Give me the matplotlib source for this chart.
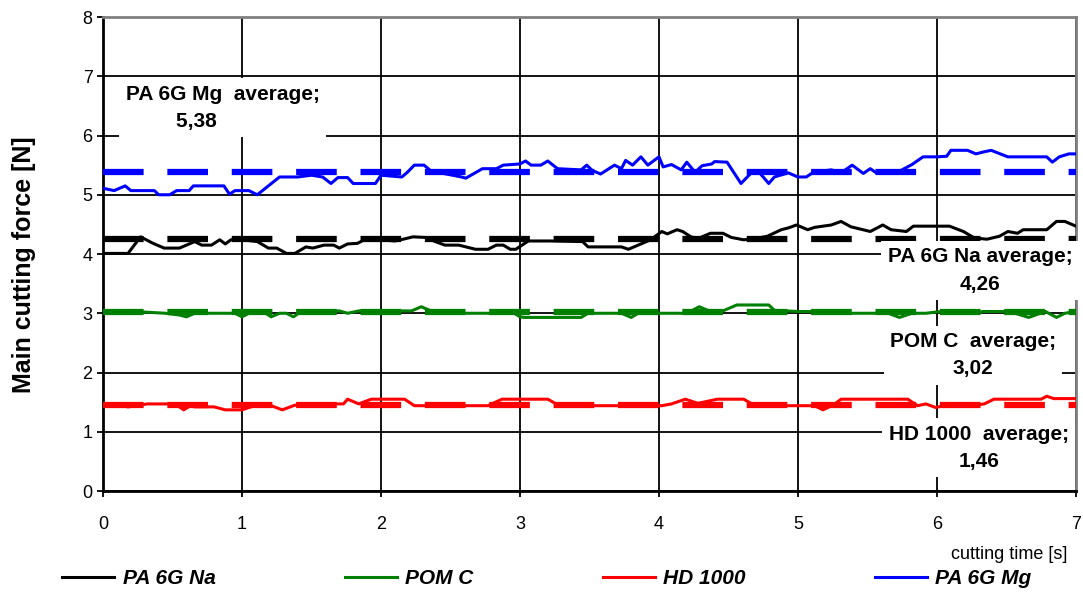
import matplotlib
matplotlib.use("Agg")
import matplotlib.pyplot as plt

plt.rcParams['font.family'] = ['Liberation Sans', 'DejaVu Sans']

# PA 6G Na (black)
na_t = [0, 0.18, 0.27, 0.36, 0.44, 0.55, 0.66, 0.71, 0.78, 0.84, 0.88, 0.92, 1.0, 1.11, 1.19, 1.25,
        1.32, 1.38, 1.46, 1.51, 1.59, 1.66, 1.70, 1.76, 1.83, 1.89, 2.0, 2.1, 2.16, 2.23, 2.32, 2.39,
        2.46, 2.56, 2.68, 2.77, 2.83, 2.88, 2.93, 2.97, 3.06, 3.22, 3.45, 3.49, 3.73, 3.78, 3.85, 3.94,
        4.02, 4.06, 4.13, 4.17, 4.23, 4.28, 4.37, 4.46, 4.52, 4.61, 4.69, 4.78, 4.88, 4.93, 4.99, 5.07,
        5.12, 5.24, 5.31, 5.38, 5.52, 5.61, 5.67, 5.78, 5.83, 5.93, 6.09, 6.19, 6.27, 6.36, 6.45, 6.51,
        6.58, 6.62, 6.79, 6.86, 6.92, 7.0]
na_v = [4.01, 4.01, 4.29, 4.18, 4.10, 4.10, 4.21, 4.15, 4.15, 4.24, 4.17, 4.24, 4.24, 4.21, 4.10, 4.10,
        4.01, 4.01, 4.12, 4.10, 4.15, 4.15, 4.10, 4.17, 4.18, 4.25, 4.24, 4.22, 4.25, 4.29, 4.28, 4.21,
        4.15, 4.15, 4.08, 4.08, 4.15, 4.15, 4.08, 4.08, 4.22, 4.22, 4.21, 4.12, 4.12, 4.08, 4.15, 4.24,
        4.38, 4.34, 4.41, 4.38, 4.29, 4.26, 4.35, 4.35, 4.28, 4.24, 4.26, 4.30, 4.41, 4.44, 4.49, 4.41,
        4.45, 4.49, 4.55, 4.46, 4.38, 4.49, 4.41, 4.38, 4.47, 4.47, 4.47, 4.38, 4.27, 4.25, 4.30, 4.38,
        4.35, 4.41, 4.41, 4.55, 4.55, 4.47]

# POM C (green)
pom_t = [0, 0.3, 0.45, 0.55, 0.6, 0.66, 0.78, 0.95, 1.0, 1.05, 1.17, 1.21, 1.27, 1.32, 1.37, 1.42,
         1.62, 1.7, 1.76, 1.84, 2.22, 2.29, 2.36, 2.53, 2.79, 2.96, 3.0, 3.03, 3.44, 3.49, 3.73, 3.80,
         3.85, 4.0, 4.2, 4.29, 4.35, 4.45, 4.56, 4.79, 4.83, 5.0, 5.17, 5.29, 5.58, 5.65, 5.73, 5.82,
         5.92, 6.03, 6.28, 6.33, 6.52, 6.66, 6.78, 6.86, 6.92, 7.0]
pom_v = [3.02, 3.02, 3.0, 2.97, 2.94, 3.0, 3.0, 3.0, 2.94, 3.0, 3.0, 2.94, 3.0, 3.0, 2.94, 3.02,
         3.03, 3.04, 3.0, 3.04, 3.04, 3.11, 3.04, 3.0, 3.0, 3.0, 2.94, 2.93, 2.93, 3.0, 3.0, 2.93,
         3.0, 3.0, 3.0, 3.11, 3.05, 3.03, 3.14, 3.14, 3.05, 3.03, 3.03, 3.0, 3.0, 3.0, 2.93, 3.0,
         3.0, 3.03, 3.0, 3.03, 3.03, 2.93, 3.03, 2.93, 3.0, 3.03]

# HD 1000 (red)
hd_t = [0, 0.09, 0.18, 0.32, 0.52, 0.58, 0.63, 0.66, 0.8, 0.88, 1.0, 1.09, 1.21, 1.29, 1.37, 1.42,
        1.73, 1.76, 1.84, 1.93, 2.17, 2.24, 2.77, 2.87, 3.2, 3.26, 3.44, 3.51, 4.02, 4.09, 4.19, 4.28,
        4.42, 4.61, 4.69, 5.12, 5.18, 5.26, 5.31, 5.79, 5.86, 5.92, 5.99, 6.05, 6.25, 6.34, 6.41, 6.75,
        6.79, 6.84, 7.0]
hd_v = [1.46, 1.46, 1.42, 1.47, 1.47, 1.37, 1.44, 1.42, 1.42, 1.37, 1.37, 1.44, 1.44, 1.37, 1.44, 1.47,
        1.47, 1.55, 1.47, 1.55, 1.55, 1.44, 1.44, 1.55, 1.55, 1.47, 1.47, 1.44, 1.44, 1.47, 1.55, 1.48,
        1.55, 1.55, 1.44, 1.44, 1.37, 1.46, 1.55, 1.55, 1.44, 1.47, 1.41, 1.44, 1.44, 1.47, 1.55, 1.55,
        1.60, 1.56, 1.56]

# PA 6G Mg (blue)
mg_t = [0, 0.08, 0.16, 0.2, 0.37, 0.4, 0.48, 0.53, 0.62, 0.65, 0.87, 0.91, 0.95, 1.05, 1.11, 1.27,
        1.4, 1.5, 1.58, 1.64, 1.69, 1.76, 1.80, 1.96, 2.0, 2.15, 2.19, 2.24, 2.31, 2.36, 2.58, 2.61,
        2.73, 2.83, 2.88, 3.0, 3.04, 3.08, 3.15, 3.2, 3.27, 3.44, 3.48, 3.52, 3.58, 3.68, 3.73, 3.76,
        3.81, 3.87, 3.92, 4.0, 4.03, 4.09, 4.16, 4.2, 4.26, 4.31, 4.38, 4.4, 4.49, 4.59, 4.66, 4.72,
        4.79, 4.83, 4.93, 5.0, 5.06, 5.11, 5.24, 5.31, 5.39, 5.47, 5.52, 5.57, 5.74, 5.82, 5.90, 6.0,
        6.07, 6.10, 6.22, 6.28, 6.33, 6.39, 6.51, 6.79, 6.83, 6.88, 6.95, 7.0]
mg_v = [5.11, 5.07, 5.15, 5.07, 5.07, 5.0, 5.0, 5.07, 5.07, 5.15, 5.15, 5.01, 5.07, 5.07, 5.0, 5.30,
        5.30, 5.33, 5.30, 5.19, 5.29, 5.29, 5.19, 5.19, 5.33, 5.30, 5.38, 5.50, 5.50, 5.40, 5.30, 5.28,
        5.44, 5.44, 5.50, 5.52, 5.57, 5.50, 5.50, 5.57, 5.44, 5.42, 5.50, 5.41, 5.35, 5.50, 5.44, 5.58,
        5.50, 5.64, 5.50, 5.64, 5.47, 5.51, 5.42, 5.55, 5.38, 5.49, 5.52, 5.56, 5.55, 5.19, 5.36, 5.38,
        5.19, 5.30, 5.37, 5.30, 5.30, 5.38, 5.42, 5.37, 5.50, 5.36, 5.44, 5.36, 5.41, 5.51, 5.64, 5.64,
        5.65, 5.75, 5.75, 5.69, 5.72, 5.75, 5.64, 5.64, 5.55, 5.64, 5.69, 5.69]

avg_na, avg_pom, avg_hd, avg_mg = 4.26, 3.02, 1.46, 5.38

fig = plt.figure(figsize=(10.83, 6.03), dpi=100)
ax = fig.add_axes([0.0951, 0.1857, 0.8984, 0.7861])

ax.plot(na_t, na_v, color='black', lw=2.2, label='PA 6G Na', zorder=3)
ax.plot(pom_t, pom_v, color='#008000', lw=2.2, label='POM C', zorder=3)
ax.plot(hd_t, hd_v, color='red', lw=2.2, label='HD 1000', zorder=3)
ax.plot(mg_t, mg_v, color='blue', lw=2.2, label='PA 6G Mg', zorder=3)

dash = (0, (6.5, 3.8))
ax.plot([0, 7], [avg_na] * 2, color='black', lw=4.5, ls=dash, zorder=4)
ax.plot([0, 7], [avg_pom] * 2, color='#008000', lw=4.5, ls=dash, zorder=4)
ax.plot([0, 7], [avg_hd] * 2, color='red', lw=4.5, ls=dash, zorder=4)
ax.plot([0, 7], [avg_mg] * 2, color='blue', lw=4.5, ls=dash, zorder=4)

ax.set_xlim(0, 7)
ax.set_ylim(0, 8)
ax.set_xticks(range(0, 8))
ax.set_yticks(range(0, 9))
ax.grid(True, color='black', lw=1.3)
ax.tick_params(direction='out', length=4, width=1.3, labelsize=13, colors='black')
ax.tick_params(axis='x', pad=14)
ax.spines['left'].set_linewidth(2)
ax.spines['bottom'].set_linewidth(2)
for s in ('top', 'right'):
    ax.spines[s].set_color('#808080')
    ax.spines[s].set_linewidth(2)

ax.set_ylabel('Main cutting force [N]', fontsize=18, fontweight='bold')
ax.yaxis.set_label_coords(-0.069, 0.477)
fig.text(0.986, 0.081, 'cutting time [s]', ha='right', va='center', fontsize=13)

box = dict(facecolor='white', edgecolor='none', boxstyle='square,pad=0.3')
notes = [(0.86, 6.47, 'PA 6G Mg  average;\n5,38         '),
         (6.31, 3.72, 'PA 6G Na average;\n4,26'),
         (6.26, 2.29, 'POM C  average;\n3,02'),
         (6.30, 0.73, 'HD 1000  average;\n1,46')]
for x, y, s in notes:
    ax.text(x, y, s, ha='center', va='center', fontsize=15, fontweight='bold',
            linespacing=1.55, bbox=box, zorder=6, clip_on=False)

fig.legend(loc='lower center', bbox_to_anchor=(0.505, -0.007), ncol=4, frameon=False,
           prop={'size': 15, 'weight': 'bold', 'style': 'italic'},
           handlelength=2.5, columnspacing=6.2, handletextpad=0.4)

fig.savefig('out.png', dpi=100)
